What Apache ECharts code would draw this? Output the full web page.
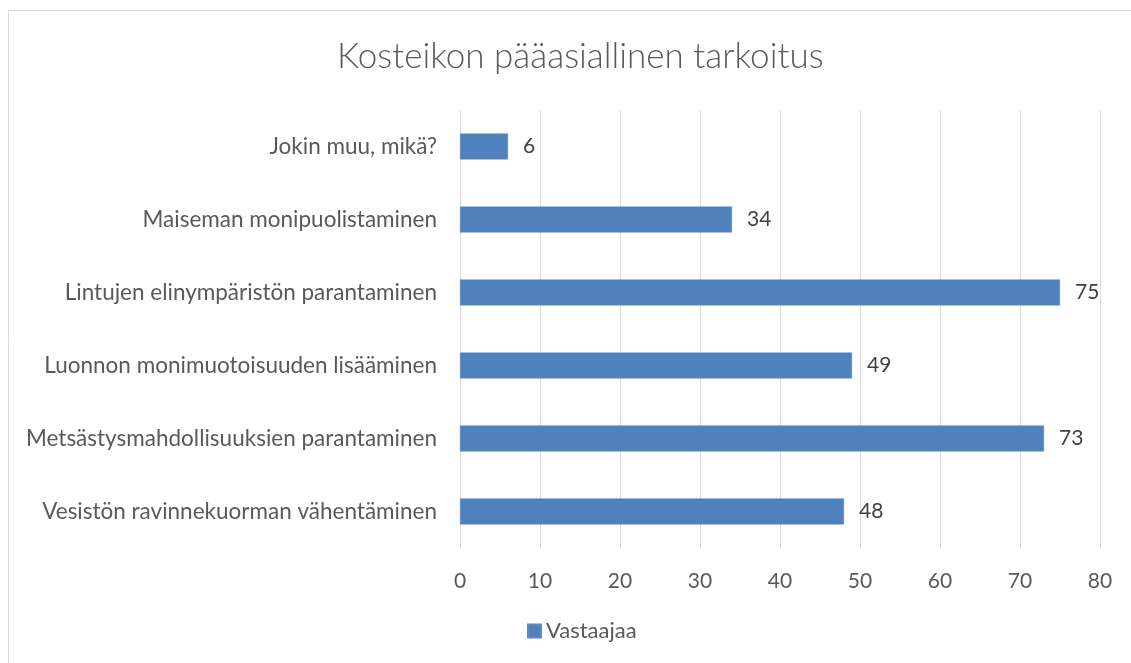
<!DOCTYPE html>
<html><head><meta charset="utf-8">
<script src="https://cdn.jsdelivr.net/npm/echarts@6/dist/echarts.min.js"></script>
<style>html,body{margin:0;padding:0;background:#fff}#c{width:1131px;height:663px}</style>
</head><body><div id="c"></div>
<script>
const categories = ["Vesistön ravinnekuorman vähentäminen","Metsästysmahdollisuuksien parantaminen","Luonnon monimuotoisuuden lisääminen","Lintujen elinympäristön parantaminen","Maiseman monipuolistaminen","Jokin muu, mikä?"];
const values = [48, 73, 49, 75, 34, 6];
const seriesName = "Vastaajaa";
const xTicks = [0,10,20,30,40,50,60,70,80];
const FONT = "Lato, 'Open Sans', sans-serif";
const chart = echarts.init(document.getElementById('c'));
chart.setOption({
  animation:false,
  backgroundColor:'#fff',
  graphic:[{type:'rect',shape:{x:8.5,y:10.5,width:1140,height:700},style:{fill:'none',stroke:'#d9d9d9',lineWidth:1},silent:true,z:-1}],
  title:{text:'Kosteikon pääasiallinen tarkoitus',left:332,top:34,textStyle:{fontFamily:FONT,fontWeight:300,fontSize:35,color:'#595959'}},
  legend:{data:[seriesName],bottom:16,left:522,itemWidth:13,itemHeight:13,itemGap:5,icon:'rect',textStyle:{fontFamily:FONT,fontSize:22,color:'#595959'}},
  grid:{left:460,right:31,top:110,bottom:115},
  xAxis:{type:'value',min:0,max:80,interval:10,
    axisLine:{show:false},axisTick:{show:false},
    splitLine:{lineStyle:{color:'#d9d9d9',width:1}},
    axisLabel:{fontFamily:FONT,fontSize:21,color:'#595959',margin:23,formatter:v=>xTicks.includes(v)?String(v):''}},
  yAxis:{type:'category',data:categories,axisLine:{show:false},axisTick:{show:false},
    axisLabel:{fontFamily:FONT,fontSize:22.5,color:'#595959',margin:23}},
  series:[{name:seriesName,type:'bar',data:values,barWidth:26,
    itemStyle:{color:'#4f81bd',borderColor:'#5a8ac6',borderWidth:0.5},
    label:{show:true,position:'right',distance:15,fontFamily:FONT,fontSize:21,color:'#404040'}}]
});
</script></body></html>
